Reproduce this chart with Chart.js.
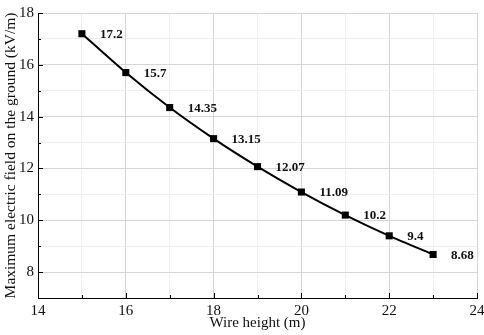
<!DOCTYPE html>
<html>
<head>
<meta charset="utf-8">
<script src="https://cdn.jsdelivr.net/npm/chart.js@4"></script>
<style>
  html, body { margin: 0; padding: 0; background: #fff; }
  #wrap { width: 484px; height: 335px; }
</style>
</head>
<body>
<div id="wrap"><canvas id="myChart" width="484" height="335"></canvas></div>
<script>
// Datas
const wireHeights = [15, 16, 17, 18, 19, 20, 21, 22, 23];
const fieldValues = [17.2, 15.7, 14.35, 13.15, 12.07, 11.09, 10.2, 9.4, 8.68];
const xTicks = [14, 16, 18, 20, 22, 24];
const yTicks = [8, 10, 12, 14, 16, 18];

const serif = "'Liberation Serif', 'Times New Roman', serif";
const majorGrid = '#d6d6d6';
const minorGrid = '#eeeeee';

// value labels next to each point
const valueLabels = {
    id: 'valueLabels',
    afterDatasetsDraw(chart) {
        const ctx = chart.ctx;
        const meta = chart.getDatasetMeta(0);
        ctx.save();
        ctx.fillStyle = '#111';
        ctx.font = 'bold 13px ' + serif;
        ctx.textAlign = 'left';
        ctx.textBaseline = 'middle';
        meta.data.forEach((pt, i) => {
            ctx.fillText(String(fieldValues[i]), pt.x + 18, pt.y + 1);
        });
        ctx.restore();
    }
};

// inward tick marks, major and minor
const inwardTicks = {
    id: 'inwardTicks',
    afterDraw(chart) {
        const ctx = chart.ctx;
        const xs = chart.scales.x, ys = chart.scales.y;
        const area = chart.chartArea;
        ctx.save();
        ctx.strokeStyle = '#000';
        ctx.lineWidth = 1;
        ctx.beginPath();
        xs.ticks.forEach(t => {
            const px = Math.round(xs.getPixelForValue(t.value)) + 0.5;
            const len = xTicks.includes(t.value) ? 5 : 3;
            ctx.moveTo(px, area.bottom);
            ctx.lineTo(px, area.bottom - len);
        });
        ys.ticks.forEach(t => {
            const py = Math.round(ys.getPixelForValue(t.value)) + 0.5;
            const len = yTicks.includes(t.value) ? 5 : 3;
            ctx.moveTo(area.left, py);
            ctx.lineTo(area.left + len, py);
        });
        ctx.stroke();
        ctx.restore();
    }
};

const myChart = new Chart('myChart', {
    type: 'line',
    data: {
        datasets: [{
            data: wireHeights.map((h, i) => ({ x: h, y: fieldValues[i] })),
            borderColor: '#000',
            backgroundColor: '#000',
            borderWidth: 2,
            pointStyle: 'rect',
            pointRadius: 5,
            pointBorderWidth: 0,
            tension: 0.2,
            fill: false
        }]
    },
    options: {
        responsive: false,
        animation: false,
        layout: { padding: { top: 6, right: 0, left: 0, bottom: 0 } },
        plugins: {
            legend: { display: false },
            tooltip: { enabled: false }
        },
        scales: {
            x: {
                type: 'linear',
                min: 14,
                max: 24,
                afterFit(scale) { scale.height = 37; scale.paddingRight = 7; },
                ticks: {
                    stepSize: 1,
                    padding: 4,
                    color: '#111',
                    font: { family: serif, size: 15 },
                    maxRotation: 0,
                    autoSkip: false,
                    callback: v => xTicks.includes(v) ? String(v) : ''
                },
                grid: {
                    drawTicks: false,
                    color: c => xTicks.includes(c.tick.value) ? majorGrid : minorGrid
                },
                border: { color: '#000', width: 1 },
                title: {
                    display: true,
                    text: 'Wire height (m)',
                    color: '#111',
                    font: { family: serif, size: 15 },
                    padding: { top: 0, bottom: 3 }
                }
            },
            y: {
                min: 7,
                max: 18,
                afterFit(scale) { scale.width = 38; },
                ticks: {
                    stepSize: 1,
                    padding: 4,
                    color: '#111',
                    font: { family: serif, size: 15 },
                    autoSkip: false,
                    callback: v => yTicks.includes(v) ? String(v) : ''
                },
                grid: {
                    drawTicks: false,
                    color: c => yTicks.includes(c.tick.value) ? majorGrid : minorGrid
                },
                border: { color: '#000', width: 1 },
                title: {
                    display: true,
                    text: 'Maximum electric field on the ground (kV/m)',
                    color: '#111',
                    font: { family: serif, size: 15.5 },
                    padding: { top: 2, bottom: 0 }
                }
            }
        }
    },
    plugins: [valueLabels, inwardTicks]
});
</script>
</body>
</html>
